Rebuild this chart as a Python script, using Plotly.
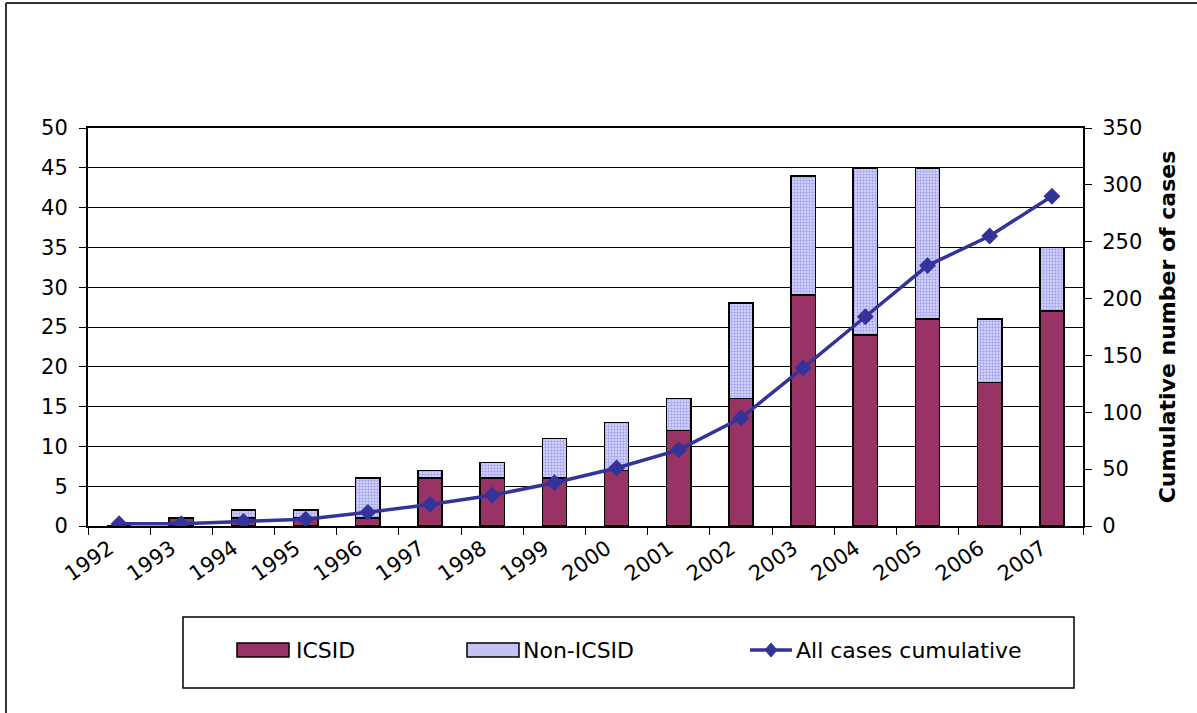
import plotly.graph_objects as go

years = ["1992", "1993", "1994", "1995", "1996", "1997", "1998", "1999",
         "2000", "2001", "2002", "2003", "2004", "2005", "2006", "2007"]
icsid = [0, 1, 1, 1, 1, 6, 6, 6, 7, 12, 16, 29, 24, 26, 18, 27]
non_icsid = [0, 0, 1, 1, 5, 1, 2, 5, 6, 4, 12, 15, 21, 19, 8, 8]
cumulative = [2, 2, 4, 6, 12, 19, 27, 38, 51, 67, 95, 139, 184, 229, 255, 290]

names = ["ICSID", "Non-ICSID", "All cases cumulative"]
c_icsid, c_non, c_line = "#993366", "#c4c4f4", "#333399"

W, H = 1197, 713
L, R, T, B = 88, 1083, 128, 526

def px(x):
    return (x - L) / (R - L)

def py(y):
    return (B - y) / (B - T)

font = "DejaVu Sans, Arial, sans-serif"

fig = go.Figure()
fig.add_trace(go.Bar(
    x=years, y=icsid, name=names[0],
    marker=dict(color=c_icsid, line=dict(color="black", width=1.5)),
))
fig.add_trace(go.Bar(
    x=years, y=non_icsid, name=names[1],
    marker=dict(color=c_non, line=dict(color="black", width=1.5),
                pattern=dict(shape=".", fgcolor="#6a6ae8", bgcolor="#dcdcfc",
                             size=3, solidity=0.5)),
))
fig.add_trace(go.Scatter(
    x=years, y=cumulative, name=names[2], yaxis="y2",
    mode="lines+markers",
    line=dict(color=c_line, width=3.5),
    marker=dict(symbol="diamond", size=13, color=c_line),
))

# legend drawn as shapes + text (wide swatches like the original)
ly = py(650)
shapes = [
    dict(type="rect", xref="paper", yref="paper",
         x0=px(183), x1=px(1074), y0=py(617), y1=py(688),
         line=dict(color="black", width=1.5), fillcolor="rgba(0,0,0,0)"),
    dict(type="rect", xref="paper", yref="paper",
         x0=px(237), x1=px(289), y0=py(643), y1=py(657),
         line=dict(color="black", width=1.5), fillcolor=c_icsid),
    dict(type="rect", xref="paper", yref="paper",
         x0=px(467), x1=px(519), y0=py(643), y1=py(657),
         line=dict(color="black", width=1.5), fillcolor=c_non),
    dict(type="line", xref="paper", yref="paper",
         x0=px(750), x1=px(792), y0=ly, y1=ly,
         line=dict(color=c_line, width=3.5)),
    dict(type="path", xref="paper", yref="paper",
         xsizemode="pixel", ysizemode="pixel", xanchor=px(771), yanchor=ly,
         path="M 0 7 L 6 0 L 0 -7 L -6 0 Z",
         fillcolor=c_line, line=dict(color=c_line, width=1)),
    dict(type="line", xref="paper", yref="paper",
         x0=px(6), x1=px(6), y0=py(3), y1=py(713),
         line=dict(color="#333333", width=2)),
    dict(type="line", xref="paper", yref="paper",
         x0=px(6), x1=px(1197), y0=py(3), y1=py(3),
         line=dict(color="#333333", width=2)),
]
annotations = [
    dict(text=t, xref="paper", yref="paper", x=px(xx), y=ly,
         xanchor="left", yanchor="middle", showarrow=False,
         font=dict(size=22, color="black"))
    for t, xx in zip(names, [294, 521, 794])
]

fig.update_layout(
    width=W, height=H,
    margin=dict(l=L, r=W - R, t=T, b=H - B),
    paper_bgcolor="white", plot_bgcolor="white",
    barmode="stack", bargap=0.61,
    font=dict(family=font, size=21, color="black"),
    showlegend=False,
    xaxis=dict(
        type="category", range=[-0.5, 15.5], tickangle=-35, ticks="outside",
        tickson="boundaries",
        ticklen=7, tickcolor="black", showline=True, linecolor="black",
        linewidth=2, mirror=True, showgrid=False,
        tickfont=dict(size=21), ticklabelshift=-10,
    ),
    yaxis=dict(
        range=[0, 50], dtick=5, ticks="outside", ticklen=7, tickcolor="black",
        showline=True, linecolor="black", linewidth=2,
        showgrid=True, gridcolor="black", gridwidth=1, zeroline=False,
        tickfont=dict(size=21), ticklabelstandoff=7,
    ),
    yaxis2=dict(
        range=[0, 350], dtick=50, overlaying="y", side="right",
        ticks="outside", ticklen=7, tickcolor="black",
        showline=True, linecolor="black", linewidth=2, showgrid=False,
        zeroline=False, tickfont=dict(size=21), ticklabelstandoff=6,
        title=dict(text="<b>Cumulative number of cases</b>",
                   font=dict(size=22), standoff=18),
    ),
    shapes=shapes,
    annotations=annotations,
)

fig.write_html("out.html")
